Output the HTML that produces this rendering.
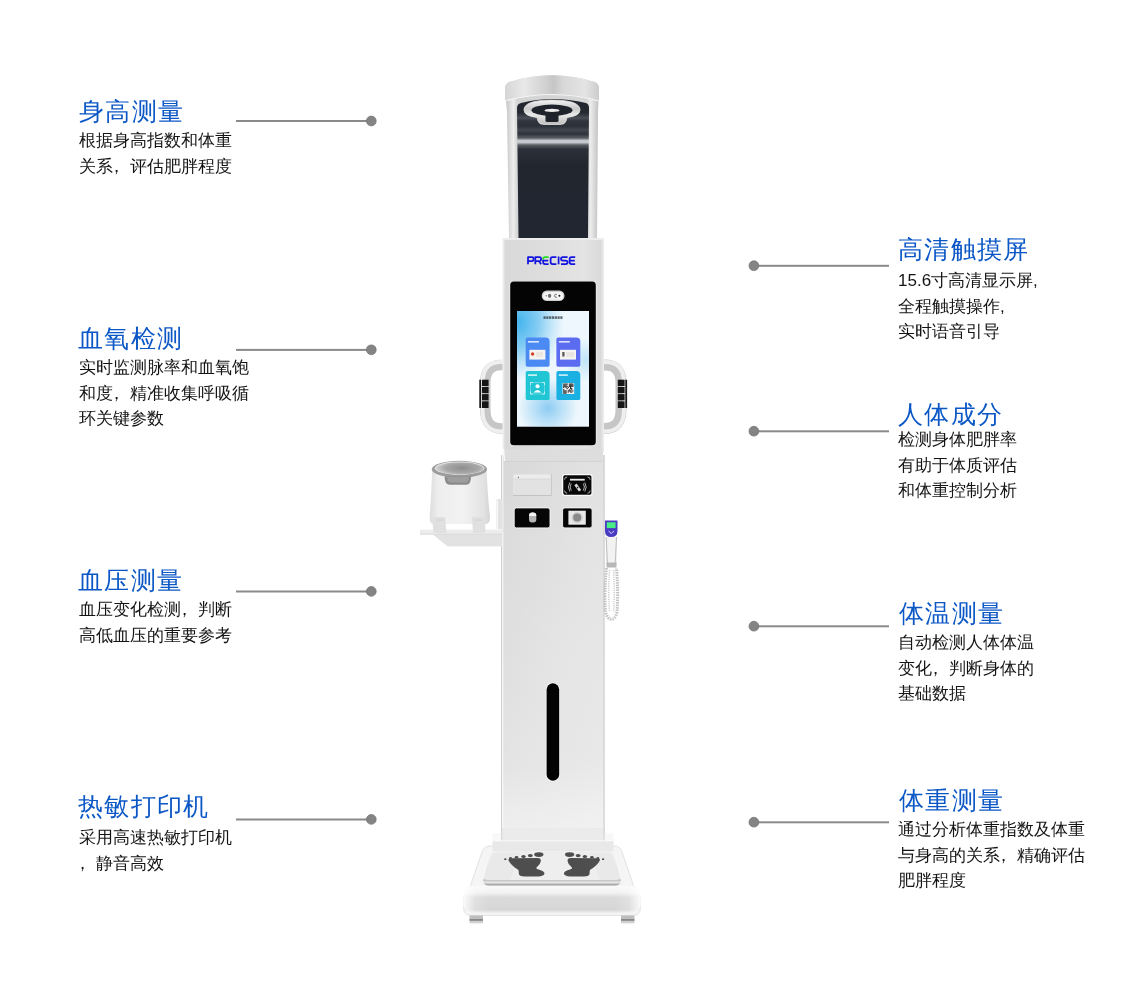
<!DOCTYPE html>
<html><head><meta charset="utf-8">
<style>
html,body{margin:0;padding:0;background:#fff;}
body{width:1140px;height:993px;position:relative;overflow:hidden;font-family:"Liberation Sans",sans-serif;}
.t{position:absolute;will-change:transform;color:#0b57c6;font-size:25px;letter-spacing:1.3px;line-height:28px;white-space:nowrap;}
.cm{position:relative;left:-5px;}
.b{position:absolute;will-change:transform;color:#141414;font-size:17px;line-height:25.5px;white-space:nowrap;}
</style></head><body>

<svg width="1140" height="993" viewBox="0 0 1140 993" style="position:absolute;left:0;top:0">
<defs>
 <linearGradient id="gSilver" x1="0" x2="1" y1="0" y2="0">
  <stop offset="0" stop-color="#bdbdbd"/><stop offset="0.12" stop-color="#e6e6e6"/><stop offset="0.5" stop-color="#d9d9d9"/><stop offset="0.88" stop-color="#e4e4e4"/><stop offset="1" stop-color="#c4c4c4"/>
 </linearGradient>
 <linearGradient id="gCap" x1="0" x2="1" y1="0" y2="0">
  <stop offset="0" stop-color="#d6d6d6"/><stop offset="0.2" stop-color="#e8e8e8"/><stop offset="0.42" stop-color="#d2d2d2"/><stop offset="0.52" stop-color="#c6c6c6"/><stop offset="0.62" stop-color="#d8d8d8"/><stop offset="0.85" stop-color="#e4e4e4"/><stop offset="1" stop-color="#cccccc"/>
 </linearGradient>
 <linearGradient id="gPanel" x1="0" x2="0" y1="0" y2="1">
  <stop offset="0" stop-color="#20242d"/><stop offset="0.22" stop-color="#2a2e37"/><stop offset="0.28" stop-color="#9aa0a6"/><stop offset="0.31" stop-color="#3a3e46"/><stop offset="0.4" stop-color="#1f232b"/><stop offset="1" stop-color="#1e222a"/>
 </linearGradient>
 <linearGradient id="gBody" x1="0" x2="1" y1="0" y2="0">
  <stop offset="0" stop-color="#f4f4f4"/><stop offset="0.03" stop-color="#d9d9d9"/><stop offset="0.5" stop-color="#dedede"/><stop offset="0.8" stop-color="#e4e4e4"/><stop offset="0.97" stop-color="#dadada"/><stop offset="1" stop-color="#f0f0f0"/>
 </linearGradient>
 <linearGradient id="gCol" x1="0" x2="1" y1="0" y2="1">
  <stop offset="0" stop-color="#d8d8d8"/><stop offset="0.5" stop-color="#e2e2e2"/><stop offset="1" stop-color="#e8e8e8"/>
 </linearGradient>
 <linearGradient id="gScreen" x1="0" x2="1" y1="0" y2="1">
  <stop offset="0" stop-color="#4fb0ea"/><stop offset="0.45" stop-color="#bfe3f8"/><stop offset="0.7" stop-color="#9fd4f2"/><stop offset="1" stop-color="#eef7fd"/>
 </linearGradient>
 <linearGradient id="gBase" x1="0" x2="0" y1="0" y2="1">
  <stop offset="0" stop-color="#f6f6f6"/><stop offset="0.5" stop-color="#e8e8e8"/><stop offset="0.75" stop-color="#d9d9d9"/><stop offset="1" stop-color="#ececec"/>
 </linearGradient>
 <linearGradient id="gCup" x1="0" x2="1" y1="0" y2="0">
  <stop offset="0" stop-color="#e6e6e6"/><stop offset="0.4" stop-color="#f3f3f3"/><stop offset="1" stop-color="#dcdcdc"/>
 </linearGradient>
</defs>

<!-- ===== HEAD ===== -->
<linearGradient id="gPanelU" gradientUnits="userSpaceOnUse" x1="0" x2="0" y1="100" y2="238"><stop offset="0.0000" stop-color="#20242c"/><stop offset="0.0942" stop-color="#262a32"/><stop offset="0.1304" stop-color="#4a4e56"/><stop offset="0.1522" stop-color="#30343c"/><stop offset="0.1884" stop-color="#2c3038"/><stop offset="0.2174" stop-color="#42464e"/><stop offset="0.2464" stop-color="#2e323a"/><stop offset="0.2754" stop-color="#5a5e64"/><stop offset="0.2935" stop-color="#c4c8cc"/><stop offset="0.3080" stop-color="#c4c8cc"/><stop offset="0.3261" stop-color="#5a5e64"/><stop offset="0.3551" stop-color="#2c3038"/><stop offset="0.4710" stop-color="#22262f"/><stop offset="1.0000" stop-color="#222631"/></linearGradient>
<linearGradient id="gFrameU" gradientUnits="userSpaceOnUse" x1="505" x2="599" y1="0" y2="0">
  <stop offset="0" stop-color="#bcbcbc"/><stop offset="0.05" stop-color="#dadada"/><stop offset="0.09" stop-color="#ededed"/><stop offset="0.13" stop-color="#d4d4d4"/><stop offset="0.87" stop-color="#d6d6d6"/><stop offset="0.91" stop-color="#ececec"/><stop offset="0.95" stop-color="#d8d8d8"/><stop offset="1" stop-color="#bdbdbd"/>
</linearGradient>
<path d="M505,89 Q505,84 509,82 Q552,68.5 595,82 Q599,84 599,89 L598,112 L597,238 L509,238 L507,112 Z" fill="url(#gFrameU)"/>
<path d="M505,89 Q505,84 509,82 Q552,68.5 595,82 Q599,84 599,89 L599,101 Q552,88 505,101 Z" fill="url(#gCap)"/>
<path d="M505,101 Q552,88 599,101" stroke="#f4f4f4" stroke-width="1.2" fill="none"/>
<path d="M517,108 Q517,104 521,103 Q552,95 586,103 Q589,104 589,108 L588,238 L518.5,238 Z" fill="url(#gPanelU)"/>
<!-- sensor -->
<linearGradient id="gRing" gradientUnits="userSpaceOnUse" x1="0" x2="0" y1="100" y2="124.5"><stop offset="0" stop-color="#f4f4f4"/><stop offset="0.35" stop-color="#c8c8c8"/><stop offset="0.6" stop-color="#e8e8e8"/><stop offset="1" stop-color="#bdbdbd"/></linearGradient>
<path d="M524,110 Q524,100 552,100 Q580,100 580,110 Q580,116 567,117.5 L566,121 Q565,124.5 560,124.5 L544,124.5 Q539,124.5 538,121 L537,117.5 Q524,116 524,110 Z" fill="url(#gRing)" stroke="#f2f2f2" stroke-width="0.7"/>
<ellipse cx="552" cy="110.2" rx="20.5" ry="5.6" fill="#1e222a"/>
<path d="M545.5,113 L558.5,113 L558.5,120.5 Q558.5,122 557,122 L547,122 Q545.5,122 545.5,120.5 Z" fill="#1e222a"/>
<ellipse cx="552" cy="110.4" rx="7.5" ry="1.7" fill="#ececec"/>
<!-- ===== HANDLES ===== -->
<path d="M503,365 Q485.3,364 485.3,383 L485.3,410 Q485.3,429 503,428.5" stroke="#c6c6c6" stroke-width="10.5" fill="none"/>
<path d="M503,362 Q482.5,361 482.5,383 L482.5,410 Q482.5,432 503,431.5" stroke="#efefef" stroke-width="4" fill="none"/>
<g fill="#161616"><rect x="482" y="379.7" width="6.6" height="6.3"/><rect x="482" y="386.9" width="6.6" height="6.3"/><rect x="482" y="394.1" width="6.6" height="6.3"/><rect x="482" y="401.3" width="6.6" height="6.7"/>
<rect x="479.3" y="379.7" width="1.8" height="28.3"/></g>
<path d="M603,365 Q621,364 621,383 L621,410 Q621,429 603,428.5" stroke="#c6c6c6" stroke-width="11" fill="none"/>
<path d="M603,362 Q624,361 624,383 L624,410 Q624,432 603,431.5" stroke="#efefef" stroke-width="4" fill="none"/>
<g fill="#161616"><rect x="617.8" y="379.7" width="6.8" height="6.3"/><rect x="617.8" y="386.9" width="6.8" height="6.3"/><rect x="617.8" y="394.1" width="6.8" height="6.3"/><rect x="617.8" y="401.3" width="6.8" height="6.7"/>
<rect x="625.3" y="379.7" width="1.8" height="28.3"/></g>
<!-- ===== LOWER COLUMN ===== -->
<rect x="501.3" y="455" width="103.2" height="388" fill="url(#gCol)"/>
<linearGradient id="gColV" gradientUnits="userSpaceOnUse" x1="0" x2="0" y1="455" y2="843"><stop offset="0" stop-color="#fff" stop-opacity="0"/><stop offset="0.8" stop-color="#fff" stop-opacity="0.1"/><stop offset="0.92" stop-color="#fff" stop-opacity="0.35"/><stop offset="1" stop-color="#fff" stop-opacity="0.45"/></linearGradient>
<rect x="502.2" y="455" width="101.4" height="388" fill="url(#gColV)"/>
<rect x="501.3" y="455" width="0.9" height="388" fill="#c6c6c6"/>
<rect x="502.2" y="455" width="1.1" height="388" fill="#fafafa"/>
<rect x="603.6" y="455" width="0.9" height="388" fill="#c8c8c8"/>

<!-- ===== UPPER PANEL ===== -->
<path d="M502.5,238.5 L604,238.5 L604,449 Q604,455 598,455 L508.5,455 Q502.5,455 502.5,449 Z" fill="url(#gBody)"/>
<path d="M503,449 L504,462 L602,462 L603.5,449 Z" fill="#dddddd"/><path d="M503.5,449 L504.5,461" stroke="#fafafa" stroke-width="1.4"/><path d="M504,461.5 L602,461.5" stroke="#cfcfcf" stroke-width="0.8"/>
<rect x="502.5" y="238.5" width="101.5" height="1.5" fill="#ececec"/>
<g fill="none" stroke="#1414e0" stroke-width="1.75" stroke-linejoin="round" stroke-linecap="butt">
<path d="M528,264.2 L528,257 L532,257 Q533.6,257 533.6,259 Q533.6,261 532,261 L528.6,261"/>
<path d="M535.3,264.2 L535.3,257 L539.5,257 Q541.1,257 541.1,259 Q541.1,261 539.5,261 L535.8,261 M538.8,261 L541.2,264.2"/>
<path d="M548.6,264 L545,264 Q543.1,264 543.1,262 L543.1,259.5 M543.6,260.6 L548.2,260.6"/>
<path d="M556.4,257 L552.5,257 Q550.6,257 550.6,259 L550.6,262 Q550.6,264 552.5,264 L556.4,264"/>
<path d="M558.6,256.5 L558.6,264.3"/>
<path d="M567.6,257 L562.9,257 Q561,257 561,258.8 Q561,260.6 562.9,260.6 L565.7,260.6 Q567.6,260.6 567.6,262.3 Q567.6,264 565.7,264 L561,264"/>
<path d="M575.2,257 L571.5,257 Q569.6,257 569.6,259 L569.6,262 Q569.6,264 571.5,264 L575.2,264 M570.2,260.6 L574.8,260.6"/>
</g>
<path d="M543.1,259.5 Q543.1,257 545,257 L548.6,257" stroke="#22dd22" stroke-width="1.75" fill="none"/>
<rect x="509.5" y="281" width="87" height="165" rx="4" fill="#f2f2f2"/>
<rect x="510.2" y="281.6" width="85.6" height="163.7" rx="3.5" fill="#040404"/>
<rect x="541.7" y="290.6" width="22.8" height="10.5" rx="5.2" fill="#cfcfcf"/>
<rect x="543" y="291.9" width="20.2" height="7.9" rx="3.9" fill="#f6f6f6"/>
<circle cx="546.2" cy="295.8" r="0.8" fill="#888"/><ellipse cx="549.6" cy="295.8" rx="1.7" ry="2.1" fill="#707070"/>
<path d="M556.8,294.3 Q555,293.6 554.5,295.8 Q555,298 556.8,297.3" stroke="#666" stroke-width="1" fill="none"/><circle cx="559.4" cy="295.8" r="1" fill="#222"/>
<!-- screen -->
<radialGradient id="gScrTL" gradientUnits="userSpaceOnUse" cx="518" cy="322" r="58" gradientTransform="translate(518 322) scale(0.8 1) translate(-518 -322)"><stop offset="0" stop-color="#44b4ee"/><stop offset="0.45" stop-color="#86cdf3"/><stop offset="1" stop-color="#a8dcf6" stop-opacity="0"/></radialGradient>
<radialGradient id="gScrBM" gradientUnits="userSpaceOnUse" cx="548" cy="408" r="30"><stop offset="0" stop-color="#8ecdf2"/><stop offset="1" stop-color="#8ecdf2" stop-opacity="0"/></radialGradient>
<radialGradient id="gScrMR" gradientUnits="userSpaceOnUse" cx="586" cy="360" r="22"><stop offset="0" stop-color="#bfe4f8"/><stop offset="1" stop-color="#bfe4f8" stop-opacity="0"/></radialGradient>
<rect x="517" y="311" width="72" height="115.7" fill="#eef7fd"/>
<rect x="517" y="311" width="72" height="115.7" fill="url(#gScrTL)"/>
<rect x="517" y="311" width="72" height="115.7" fill="url(#gScrBM)"/>
<rect x="517" y="311" width="72" height="115.7" fill="url(#gScrMR)"/>
<g fill="#2a2f38" opacity="0.7"><rect x="543.5" y="316.3" width="2.2" height="2.6"/><rect x="546.3" y="316.3" width="2.2" height="2.6"/><rect x="549.1" y="316.3" width="2.2" height="2.6"/><rect x="551.9" y="316.3" width="2.2" height="2.6"/><rect x="554.7" y="316.3" width="2.2" height="2.6"/><rect x="557.5" y="316.3" width="2.2" height="2.6"/><rect x="560.3" y="316.3" width="2.2" height="2.6"/></g>
<path d="M527.5,337.5 L545.5,337.5 Q549.6,337.5 549.6,341.5 L549.6,365 Q549.6,366.7 548,366.7 L527.5,366.7 Q525.7,366.7 525.7,365 L525.7,339.3 Q525.7,337.5 527.5,337.5 Z" fill="#4a8af2"/>
<path d="M558.2,337.5 L576.2,337.5 Q580.3,337.5 580.3,341.5 L580.3,365 Q580.3,366.7 578.7,366.7 L558.2,366.7 Q556.4,366.7 556.4,365 L556.4,339.3 Q556.4,337.5 558.2,337.5 Z" fill="#5b6cf0"/>
<path d="M527.5,370.9 L545.5,370.9 Q549.6,370.9 549.6,374.9 L549.6,398.4 Q549.6,400.1 548,400.1 L527.5,400.1 Q525.7,400.1 525.7,398.4 L525.7,372.7 Q525.7,370.9 527.5,370.9 Z" fill="#20c6d4"/>
<path d="M558.2,370.9 L576.2,370.9 Q580.3,370.9 580.3,374.9 L580.3,398.4 Q580.3,400.1 578.7,400.1 L558.2,400.1 Q556.4,400.1 556.4,398.4 L556.4,372.7 Q556.4,370.9 558.2,370.9 Z" fill="#1ab0e2"/>
<g fill="#ffffff" opacity="0.8"><rect x="528" y="341" width="11" height="1.6"/><rect x="558.8" y="341" width="11" height="1.6"/><rect x="528" y="374.3" width="9" height="1.6"/><rect x="558.8" y="374.3" width="9" height="1.6"/></g>
<rect x="529.4" y="349.8" width="16" height="9.8" fill="#f6f4f0"/><circle cx="532.6" cy="354" r="1.7" fill="#d8402a"/><rect x="536" y="352" width="7" height="5" fill="#ece6e0"/>
<rect x="560" y="349.8" width="16" height="9.8" fill="#f6f4f0"/><rect x="562.3" y="352" width="2.2" height="4.5" fill="#555"/><rect x="566" y="352" width="8" height="5" fill="#ece6e0"/>
<path d="M530.5,385 L530.5,382.5 L533,382.5 M542,382.5 L544.5,382.5 L544.5,385 M544.5,391.5 L544.5,394 L542,394 M533,394 L530.5,394 L530.5,391.5" stroke="#e6fafc" stroke-width="0.8" fill="none"/>
<rect x="530.5" y="382.5" width="14" height="11.5" fill="none" stroke="#bff0f4" stroke-width="0.4"/>
<circle cx="537.5" cy="386.2" r="2" fill="#fff"/><path d="M533.5,392.5 Q537.5,387.5 541.5,392.5 Z" fill="#fff"/>
<rect x="562.5" y="383" width="11.7" height="11" fill="#f4f4f4"/><g fill="#2a2a2a"><rect x="563.20" y="383.50" width="1.18" height="1.18"/><rect x="564.33" y="383.50" width="1.18" height="1.18"/><rect x="565.47" y="383.50" width="1.18" height="1.18"/><rect x="566.60" y="383.50" width="1.18" height="1.18"/><rect x="568.87" y="383.50" width="1.18" height="1.18"/><rect x="570.00" y="383.50" width="1.18" height="1.18"/><rect x="571.13" y="383.50" width="1.18" height="1.18"/><rect x="572.27" y="383.50" width="1.18" height="1.18"/><rect x="563.20" y="384.63" width="1.18" height="1.18"/><rect x="564.33" y="384.63" width="1.18" height="1.18"/><rect x="565.47" y="384.63" width="1.18" height="1.18"/><rect x="568.87" y="384.63" width="1.18" height="1.18"/><rect x="570.00" y="384.63" width="1.18" height="1.18"/><rect x="571.13" y="384.63" width="1.18" height="1.18"/><rect x="572.27" y="384.63" width="1.18" height="1.18"/><rect x="563.20" y="385.77" width="1.18" height="1.18"/><rect x="564.33" y="385.77" width="1.18" height="1.18"/><rect x="565.47" y="385.77" width="1.18" height="1.18"/><rect x="566.60" y="385.77" width="1.18" height="1.18"/><rect x="568.87" y="385.77" width="1.18" height="1.18"/><rect x="570.00" y="385.77" width="1.18" height="1.18"/><rect x="571.13" y="385.77" width="1.18" height="1.18"/><rect x="572.27" y="385.77" width="1.18" height="1.18"/><rect x="563.20" y="386.90" width="1.18" height="1.18"/><rect x="565.47" y="386.90" width="1.18" height="1.18"/><rect x="567.73" y="386.90" width="1.18" height="1.18"/><rect x="570.00" y="386.90" width="1.18" height="1.18"/><rect x="566.60" y="388.03" width="1.18" height="1.18"/><rect x="570.00" y="388.03" width="1.18" height="1.18"/><rect x="571.13" y="388.03" width="1.18" height="1.18"/><rect x="563.20" y="389.17" width="1.18" height="1.18"/><rect x="568.87" y="389.17" width="1.18" height="1.18"/><rect x="571.13" y="389.17" width="1.18" height="1.18"/><rect x="563.20" y="390.30" width="1.18" height="1.18"/><rect x="564.33" y="390.30" width="1.18" height="1.18"/><rect x="565.47" y="390.30" width="1.18" height="1.18"/><rect x="567.73" y="390.30" width="1.18" height="1.18"/><rect x="568.87" y="390.30" width="1.18" height="1.18"/><rect x="570.00" y="390.30" width="1.18" height="1.18"/><rect x="572.27" y="390.30" width="1.18" height="1.18"/><rect x="563.20" y="391.43" width="1.18" height="1.18"/><rect x="564.33" y="391.43" width="1.18" height="1.18"/><rect x="565.47" y="391.43" width="1.18" height="1.18"/><rect x="567.73" y="391.43" width="1.18" height="1.18"/><rect x="570.00" y="391.43" width="1.18" height="1.18"/><rect x="571.13" y="391.43" width="1.18" height="1.18"/><rect x="563.20" y="392.57" width="1.18" height="1.18"/><rect x="564.33" y="392.57" width="1.18" height="1.18"/><rect x="565.47" y="392.57" width="1.18" height="1.18"/></g>
<!-- printer & modules -->
<rect x="513.2" y="474.2" width="38.4" height="21.6" fill="#bdbdbd"/>
<rect x="513.2" y="474.2" width="37.6" height="20.6" fill="#ececec"/>
<rect x="514.2" y="479" width="36" height="15.4" fill="#e2e2e2"/>
<path d="M514.2,479 L550.2,479" stroke="#d0d0d0" stroke-width="0.6"/>
<circle cx="518.4" cy="477.4" r="0.6" fill="#666"/>
<rect x="562.6" y="474.7" width="29.5" height="20.6" rx="2.2" fill="#080808" stroke="#fbfbfb" stroke-width="1.3"/>
<g stroke="#d8d8d8" stroke-width="0.8" fill="none">
<path d="M564.6,479.6 Q564.6,477 567.2,477 M590.1,479.6 Q590.1,477 587.5,477 M564.6,490.6 Q564.6,493.2 567.2,493.2 M590.1,490.6 Q590.1,493.2 587.5,493.2"/>
<path d="M569.8,482.5 Q567,487 569.8,491.5 M571.2,483.5 Q569.2,487 571.2,490.5 M584.8,482.5 Q587.6,487 584.8,491.5 M583.4,483.5 Q585.4,487 583.4,490.5"/>
</g>
<rect x="570" y="478.8" width="14.7" height="1.8" fill="#e8e8e8"/>
<path d="M574.3,485.2 L576.6,483.6 L581.2,490 L578.9,491.6 Z" fill="#d6d6d6"/><circle cx="577.6" cy="487.6" r="0.8" fill="#111"/>
<rect x="514.2" y="507.9" width="35.8" height="20" rx="2.2" fill="#060606" stroke="#f8f8f8" stroke-width="0.9"/>
<rect x="529" y="512.6" width="7.3" height="10" rx="3" fill="#b4b4b4"/>
<path d="M529,516 Q529,512.6 532.65,512.6 Q536.3,512.6 536.3,516 Z" fill="#f4f4f4"/>
<rect x="562.6" y="507.9" width="29.5" height="20" rx="2.2" fill="#060606" stroke="#f8f8f8" stroke-width="0.9"/>
<rect x="568.4" y="510.7" width="17.4" height="14" fill="#e8e8e8"/>
<circle cx="577.2" cy="517.6" r="5.6" fill="#cfcfcf"/>
<circle cx="577.2" cy="517.6" r="4" fill="#8a8a8a"/>
<!-- slot -->
<rect x="545.8" y="682.5" width="14.2" height="99" rx="7.1" fill="#f8f8f8"/>
<rect x="546.6" y="683.3" width="12.6" height="97.4" rx="6.3" fill="#030303"/>

<!-- thermometer -->
<path d="M606.5,568 Q604,592 605.5,612 Q608,620 611.5,619 Q615,620 617,612 Q618.5,592 616.5,568" stroke="#c2c2c2" stroke-width="3" fill="none" stroke-dasharray="1.5 1"/>
<path d="M609.5,570 Q608,592 609.5,612 M613.5,570 Q615,592 613.5,612" stroke="#d0d0d0" stroke-width="1.6" fill="none" stroke-dasharray="1.2 1"/>
<rect x="605.7" y="537" width="11.3" height="28.5" fill="#f2f2f2"/>
<path d="M606.2,537 L607.5,565 M616.5,537 L615.2,565" stroke="#bdbdbd" stroke-width="1"/>
<rect x="606.5" y="562.5" width="10" height="5" fill="#b8b8b8"/>
<path d="M605,520.5 L617.5,520.5 L617.5,531 Q617.5,537 611.2,537 Q605,537 605,531 Z" fill="#4a3cc2"/>
<rect x="606.8" y="522.3" width="8.8" height="5.8" fill="#48ee84"/>
<path d="M608.5,531 L611.2,533.5 L614,531" stroke="#d8d4f8" stroke-width="1" fill="none"/>
<!-- ===== BP CUFF + TRAY ===== -->
<linearGradient id="gCupU" gradientUnits="userSpaceOnUse" x1="429" x2="490" y1="0" y2="0">
  <stop offset="0" stop-color="#dcdcdc"/><stop offset="0.15" stop-color="#eeeeee"/><stop offset="0.55" stop-color="#f2f2f2"/><stop offset="0.9" stop-color="#e2e2e2"/><stop offset="1" stop-color="#d4d4d4"/>
</linearGradient>
<linearGradient id="gCav" gradientUnits="userSpaceOnUse" x1="435" x2="483" y1="463" y2="475">
  <stop offset="0" stop-color="#b4b4b4"/><stop offset="0.6" stop-color="#d8d8d8"/><stop offset="1" stop-color="#f2f2f2"/>
</linearGradient>
<rect x="496.5" y="499" width="6" height="33" fill="#e2e2e2"/>
<rect x="497" y="499" width="1" height="33" fill="#f8f8f8"/>
<path d="M420,530.5 Q420,529 422,529 L502,529 L502,546.3 L447.6,546.3 L433,534.5 L420,534.5 Z" fill="#ececec"/>
<path d="M433,534.5 L447.6,546.3 L502,546.3 L502,534.5 Z" fill="#e2e2e2"/>
<path d="M420,529.6 L502,529.6" stroke="#f8f8f8" stroke-width="1"/>
<path d="M420,534.2 L502,534.2" stroke="#d2d2d2" stroke-width="0.7"/>
<path d="M432.2,470 Q431,500 429.6,517 Q429.6,524 433,524 L486,524 Q490,524 490,517 Q488,500 486.5,470 Z" fill="url(#gCupU)"/>
<path d="M432,517 L445,517 L446.5,533 L433.5,533 Z" fill="#e0e0e0"/><path d="M472,517 L485,517 L485.5,533 L473,533 Z" fill="#e0e0e0"/>
<path d="M436,520 L444,520" stroke="#cfcfcf" stroke-width="0.8"/><path d="M474,520 L483,520" stroke="#cfcfcf" stroke-width="0.8"/>
<radialGradient id="gCav2" gradientUnits="userSpaceOnUse" cx="462" cy="468" r="24" gradientTransform="translate(462 468) scale(1 0.3) translate(-462 -468)"><stop offset="0" stop-color="#8e8e8e"/><stop offset="0.7" stop-color="#a8a8a8"/><stop offset="1" stop-color="#c8c8c8"/></radialGradient>
<ellipse cx="459.4" cy="469.2" rx="27.6" ry="8.4" fill="#9c9c9c"/>
<ellipse cx="459.6" cy="468.2" rx="24.8" ry="6.6" fill="#e4e4e4"/>
<ellipse cx="459.8" cy="468.4" rx="23.6" ry="6" fill="url(#gCav2)"/>
<path d="M444.6,476.5 Q444.6,484.8 450,484.8 L466,484.8 Q471,484.8 471,476.5 Z" fill="#8a8a8a"/>
<path d="M447,477 Q447,482.5 451,482.5 L465,482.5 Q469,482.5 469,477 Z" fill="#9e9e9e"/>
<!-- ===== BASE ===== -->
<linearGradient id="gFace" gradientUnits="userSpaceOnUse" x1="0" x2="0" y1="885" y2="916">
 <stop offset="0" stop-color="#fbfbfb"/><stop offset="0.25" stop-color="#f2f2f2"/><stop offset="0.4" stop-color="#dadada"/><stop offset="0.8" stop-color="#d6d6d6"/><stop offset="0.92" stop-color="#f4f4f4"/><stop offset="1" stop-color="#e0e0e0"/>
</linearGradient>
<linearGradient id="gFaceX" gradientUnits="userSpaceOnUse" x1="463" x2="641" y1="0" y2="0">
 <stop offset="0" stop-color="#fff" stop-opacity="0.9"/><stop offset="0.07" stop-color="#fff" stop-opacity="0.2"/><stop offset="0.15" stop-color="#fff" stop-opacity="0"/><stop offset="0.85" stop-color="#fff" stop-opacity="0"/><stop offset="0.93" stop-color="#fff" stop-opacity="0.2"/><stop offset="1" stop-color="#fff" stop-opacity="0.9"/>
</linearGradient>
<linearGradient id="gPlate" gradientUnits="userSpaceOnUse" x1="0" x2="0" y1="851" y2="885">
 <stop offset="0" stop-color="#f0f0f0"/><stop offset="0.5" stop-color="#e6e6e6"/><stop offset="0.8" stop-color="#ececec"/><stop offset="0.86" stop-color="#c4c4c4"/><stop offset="0.93" stop-color="#e8e8e8"/><stop offset="1" stop-color="#9a9a9a"/>
</linearGradient>
<path d="M490,846 L615,846 Q620,846 622,852 L639.5,903 Q643,915.4 633,915.4 L471,915.4 Q461,915.4 464.5,903 L482,852 Q484,846 490,846 Z" fill="#f5f5f5" stroke="#dcdcdc" stroke-width="0.8"/>
<path d="M466.5,886 L637.5,886 L640.5,898 Q642.5,913 633,913 L471,913 Q461.5,913 463.5,898 Z" fill="url(#gFace)"/>
<path d="M466.5,886 L637.5,886 L640.5,898 Q642.5,913 633,913 L471,913 Q461.5,913 463.5,898 Z" fill="url(#gFaceX)"/>
<rect x="492.5" y="833" width="121" height="18.3" rx="2" fill="#f8f8f8"/>
<rect x="492.5" y="841" width="121" height="10.3" fill="#e8e8e8"/>
<rect x="492.5" y="840.3" width="121" height="1" fill="#fbfbfb"/>
<rect x="501.3" y="828" width="103.2" height="12.3" fill="#ebebeb"/>
<rect x="501.3" y="828" width="0.9" height="12.3" fill="#cfcfcf"/><rect x="603.6" y="828" width="0.9" height="12.3" fill="#d0d0d0"/>
<path d="M497,851.3 L608,851.3 Q612,851.3 613.5,855 L620.8,879 Q621.5,885.5 615,885.5 L489,885.5 Q482.5,885.5 483.2,879 L490.5,855 Q492,851.3 497,851.3 Z" fill="url(#gPlate)"/>
<path d="M497.5,852.5 L607.5,852.5 Q611,852.5 612.3,856 L618.5,877 Q619,880 615,880 L489,880 Q485,880 485.5,877 L491.8,856 Q493,852.5 497.5,852.5 Z" fill="#e9e9e9"/>
<path d="M520,853 L590,853 L600,880 L510,880 Z" fill="#f2f2f2" opacity="0.6"/>
<g fill="#4e4e4e">
<path d="M508.3,860 Q508.5,858.2 512,858.2 L537.5,858 Q541.3,858 540.8,861.2 Q540.2,864.8 537,867 Q535.3,868.2 537.8,869.3 Q544.8,871.2 544.5,873.6 Q544.2,876.4 538,876.4 L525,876.4 Q518.6,876.4 518.8,873.2 Q519,871.2 518.2,869.8 Q511,865.5 508.3,860 Z"/>
<ellipse cx="538.8" cy="854.6" rx="4.6" ry="2.3"/><ellipse cx="530.3" cy="855.6" rx="2.5" ry="1.7"/><ellipse cx="523.5" cy="856.4" rx="2.2" ry="1.5"/><ellipse cx="516.5" cy="857.3" rx="1.8" ry="1.3"/><ellipse cx="510.5" cy="858.2" rx="1.5" ry="1.1"/><ellipse cx="505.3" cy="859.2" rx="1.2" ry="0.9"/>
<path d="M 600.1 860.0 Q 599.9 858.2 596.4 858.2 L 570.9 858.0 Q 567.1 858.0 567.6 861.2 Q 568.2 864.8 571.4 867.0 Q 573.1 868.2 570.6 869.3 Q 563.6 871.2 563.9 873.6 Q 564.2 876.4 570.4 876.4 L 583.4 876.4 Q 589.8 876.4 589.6 873.2 Q 589.4 871.2 590.2 869.8 Q 597.4 865.5 600.1 860.0 Z"/>
<ellipse cx="569.6" cy="854.6" rx="4.6" ry="2.3"/><ellipse cx="578.1" cy="855.6" rx="2.5" ry="1.7"/><ellipse cx="584.9" cy="856.4" rx="2.2" ry="1.5"/><ellipse cx="591.9" cy="857.3" rx="1.8" ry="1.3"/><ellipse cx="597.9" cy="858.2" rx="1.5" ry="1.1"/><ellipse cx="603.1" cy="859.2" rx="1.2" ry="0.9"/>
</g>
<!-- pads -->
<rect x="469.5" y="915.5" width="13.5" height="4" fill="#bdbdbd"/><rect x="469.5" y="919.3" width="13.5" height="1.5" fill="#666"/><rect x="469.5" y="920.8" width="13.5" height="2.5" fill="#d0d0d0"/>
<rect x="621" y="915.5" width="13.5" height="4" fill="#bdbdbd"/><rect x="621" y="919.3" width="13.5" height="1.5" fill="#666"/><rect x="621" y="920.8" width="13.5" height="2.5" fill="#d0d0d0"/>
<g fill="#848484" stroke="#727272" stroke-width="0.7">
<rect x="236" y="120" width="135" height="2" fill="#8a8a8a" stroke="none"/><circle cx="371.3" cy="121" r="4.9"/>
<rect x="236" y="348.9" width="135" height="2" fill="#8a8a8a" stroke="none"/><circle cx="371.3" cy="349.8" r="4.9"/>
<rect x="236" y="590.5" width="135" height="2" fill="#8a8a8a" stroke="none"/><circle cx="371.3" cy="591.4" r="4.9"/>
<rect x="236" y="818.5" width="135" height="2" fill="#8a8a8a" stroke="none"/><circle cx="371.3" cy="819.4" r="4.9"/>
<rect x="754" y="264.8" width="135" height="2" fill="#8a8a8a" stroke="none"/><circle cx="753.9" cy="265.7" r="4.9"/>
<rect x="754" y="430.3" width="135" height="2" fill="#8a8a8a" stroke="none"/><circle cx="753.9" cy="431.2" r="4.9"/>
<rect x="754" y="625.3" width="135" height="2" fill="#8a8a8a" stroke="none"/><circle cx="753.9" cy="626.2" r="4.9"/>
<rect x="754" y="821.3" width="135" height="2" fill="#8a8a8a" stroke="none"/><circle cx="753.9" cy="822.2" r="4.9"/>
</g>
</svg>

<!-- left -->
<div class="t" style="left:79px;top:97px">身高测量</div>
<div class="b" style="left:79px;top:128px">根据身高指数和体重<br>关系<span class="cm">，</span>评估肥胖程度</div>

<div class="t" style="left:78px;top:324px">血氧检测</div>
<div class="b" style="left:79px;top:355px">实时监测脉率和血氧饱<br>和度<span class="cm">，</span>精准收集呼吸循<br>环关键参数</div>

<div class="t" style="left:78px;top:566px">血压测量</div>
<div class="b" style="left:79px;top:597px">血压变化检测<span class="cm">，</span>判断<br>高低血压的重要参考</div>

<div class="t" style="left:78px;top:792px">热敏打印机</div>
<div class="b" style="left:79px;top:825px">采用高速热敏打印机<br><span class="cm">，</span>静音高效</div>

<!-- right -->
<div class="t" style="left:898px;top:235px">高清触摸屏</div>
<div class="b" style="left:898px;top:268px">15.6寸高清显示屏,<br>全程触摸操作,<br>实时语音引导</div>

<div class="t" style="left:898px;top:400px">人体成分</div>
<div class="b" style="left:898px;top:427px">检测身体肥胖率<br>有助于体质评估<br>和体重控制分析</div>

<div class="t" style="left:899px;top:599px">体温测量</div>
<div class="b" style="left:898px;top:630px">自动检测人体体温<br>变化<span class="cm">，</span>判断身体的<br>基础数据</div>

<div class="t" style="left:899px;top:786px">体重测量</div>
<div class="b" style="left:898px;top:817px">通过分析体重指数及体重<br>与身高的关系<span class="cm">，</span>精确评估<br>肥胖程度</div>
</body></html>
